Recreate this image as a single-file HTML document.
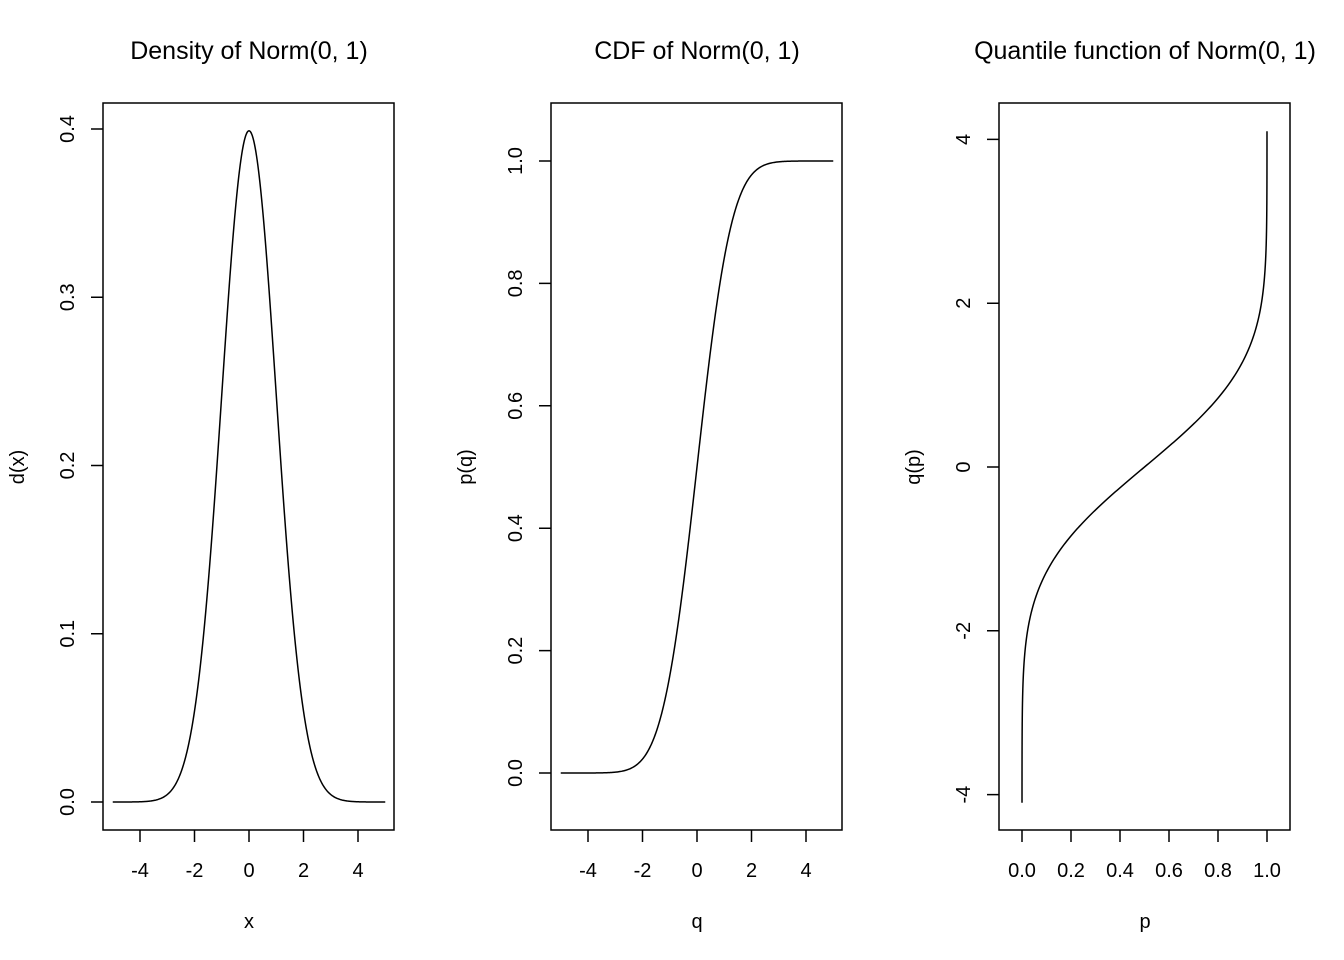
<!DOCTYPE html>
<html><head><meta charset="utf-8"><style>
html,body{margin:0;padding:0;background:#fff}
svg{display:block}
text{font-family:"Liberation Sans",Arial,sans-serif;fill:#000}
</style></head><body>
<svg id="s" width="1344" height="960" xmlns="http://www.w3.org/2000/svg">
<g fill="none" stroke="#000" stroke-width="1.5">
<rect x="103" y="103" width="291" height="727"/>
<rect x="551" y="103" width="291" height="727"/>
<rect x="999" y="103" width="291" height="727"/>
<path id="p1"/><path id="p2"/><path id="p3"/>
<path id="ticks"/>
</g>
<g font-size="25" text-anchor="middle">
<text x="249" y="59">Density of Norm(0, 1)</text>
<text x="697" y="59">CDF of Norm(0, 1)</text>
<text x="1145" y="59">Quantile function of Norm(0, 1)</text>
</g>
<g font-size="20" text-anchor="middle" id="labels">
<text x="249" y="928">x</text>
<text x="697" y="928">q</text>
<text x="1145" y="928">p</text>
<text transform="translate(24,467) rotate(-90)">d(x)</text>
<text transform="translate(472,467) rotate(-90)">p(q)</text>
<text transform="translate(920,467) rotate(-90)">q(p)</text>
</g>
</svg>
<script>
function erf(x){var s=x<0?-1:1;x=Math.abs(x);var t=1/(1+0.3275911*x);
var y=1-(((((1.061405429*t-1.453152027)*t)+1.421413741)*t-0.284496736)*t+0.254829592)*t*Math.exp(-x*x);return s*y;}
function Phi(x){return 0.5*(1+erf(x/Math.SQRT2));}
function dn(x){return Math.exp(-x*x/2)/Math.sqrt(2*Math.PI);}
var d1="",d2="",d3="";
for(var i=0;i<=400;i++){var x=-5+10*i/400;
var X1=249+x*27.25,Y1=802-dn(x)*1682.5;d1+=(i?"L":"M")+X1.toFixed(2)+","+Y1.toFixed(2);
var X2=697+x*27.25,Y2=773-Phi(x)*612;d2+=(i?"L":"M")+X2.toFixed(2)+","+Y2.toFixed(2);}
for(var i=0;i<=600;i++){var q=-4.1+8.2*i/600;var X3=1022+Phi(q)*245,Y3=467-q*81.9;d3+=(i?"L":"M")+X3.toFixed(2)+","+Y3.toFixed(2);}
document.getElementById("p1").setAttribute("d",d1);
document.getElementById("p2").setAttribute("d",d2);
document.getElementById("p3").setAttribute("d",d3);
var t="",L=document.getElementById("labels"),ns="http://www.w3.org/2000/svg";
function txt(x,y,s,rot){var e=document.createElementNS(ns,"text");e.textContent=s;
if(rot){e.setAttribute("transform","translate("+x+","+y+") rotate(-90)");}else{e.setAttribute("x",x);e.setAttribute("y",y);}L.appendChild(e);}
[-4,-2,0,2,4].forEach(function(v){var a=249+v*27.25,b=697+v*27.25;
t+="M"+a+",830V842M"+b+",830V842";txt(a,877,""+v);txt(b,877,""+v);});
for(var k=0;k<=5;k++){var x=1022+k*49;t+="M"+x+",830V842";txt(x,877,(k*0.2).toFixed(1));}
for(var k=0;k<=4;k++){var y=802-k*168.25;t+="M91,"+y+"H103";txt(74,y,(k/10).toFixed(1),1);}
for(var k=0;k<=5;k++){var y=773-k*122.4;t+="M539,"+y+"H551";txt(522,y,(k*0.2).toFixed(1),1);}
[-4,-2,0,2,4].forEach(function(v){var y=467-v*81.9;t+="M987,"+y+"H999";txt(970,y,""+v,1);});
document.getElementById("ticks").setAttribute("d",t);
</script>
</body></html>
